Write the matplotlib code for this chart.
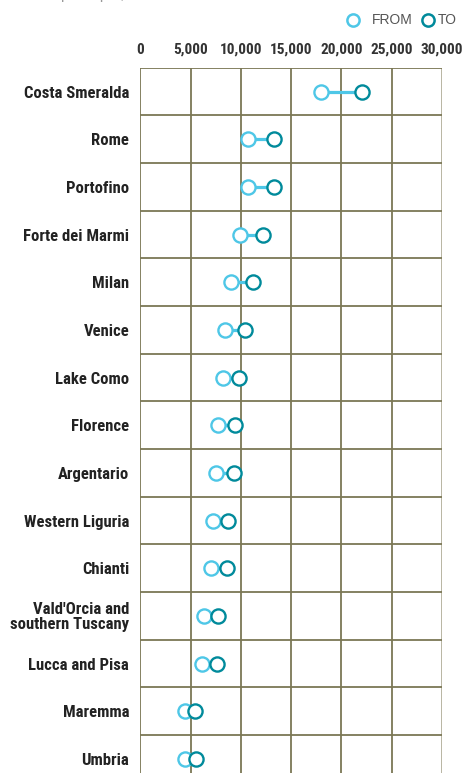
import matplotlib
matplotlib.use("Agg")
import matplotlib.pyplot as plt
from matplotlib import font_manager

categories = ["Costa Smeralda", "Rome", "Portofino", "Forte dei Marmi", "Milan",
              "Venice", "Lake Como", "Florence", "Argentario", "Western Liguria",
              "Chianti", "Vald'Orcia and\nsouthern Tuscany", "Lucca and Pisa",
              "Maremma", "Umbria"]
from_vals = [18000, 10700, 10700, 9900, 9050, 8400, 8250, 7750, 7550, 7250,
             7050, 6350, 6150, 4400, 4400]
to_vals = [22000, 13250, 13250, 12250, 11250, 10400, 9800, 9450, 9300, 8700,
           8650, 7750, 7600, 5450, 5550]
ticks = [0, 5000, 10000, 15000, 20000, 25000, 30000]
tick_labels = ["0", "5,000", "10,000", "15,000", "20,000", "25,000", "30,000"]

# find a condensed / narrow family if one is installed
cands = []
for f in font_manager.fontManager.ttflist:
    nm = f.name
    st = str(f.stretch)
    if ("Narrow" in nm or "Condensed" in nm or st in ("condensed", "semi-condensed",
                                                       "extra-condensed", "ultra-condensed")
            or (st.isdigit() and int(st) < 500)):
        cands.append((nm, st, f.fname))
narrow_name = None
narrow_stretch = "normal"
pref = ["Liberation Sans Narrow", "Roboto Condensed", "Open Sans Condensed",
        "DejaVu Sans", "Noto Sans", "Roboto", "Open Sans", "Inter", "Lato"]
for p in pref:
    for nm, st, fn in cands:
        if nm == p:
            narrow_name = nm
            narrow_stretch = "condensed" if not ("Narrow" in nm or "Condensed" in nm) else "normal"
            break
    if narrow_name:
        break
if narrow_name is None and cands:
    narrow_name = cands[0][0]
if narrow_name is None:
    narrow_name = "Roboto"
fam_narrow = [narrow_name, "DejaVu Sans"]
fam_reg = ["Liberation Sans", "DejaVu Sans"]
condensed = narrow_name not in ("Roboto",)
lab_size = 12 if condensed else 11
tick_size = 11 if condensed else 9.5

W, H = 464, 773
fig = plt.figure(figsize=(W / 100, H / 100), dpi=100)

left_px, right_px, top_px = 140.3, 442.0, 67.7
row_h = 47.67
n = len(categories)
bottom_px = top_px + n * row_h
ax = fig.add_axes([left_px / W, (H - bottom_px) / H,
                   (right_px - left_px) / W, (bottom_px - top_px) / H])

FROM_C = "#4ec7e7"
TO_C = "#008a9b"
GRID_C = "#7b7755"

ax.set_xlim(0, 30000)
ax.set_ylim(n, 0)
for t in ticks:
    ax.axvline(t, color=GRID_C if t < 30000 else "#b3b09c", lw=1.3, zorder=1)
for k in range(n + 1):
    ax.axhline(k, color=GRID_C, lw=1.3, zorder=1)
for s in ax.spines.values():
    s.set_visible(False)

ys = [i + 0.5 for i in range(n)]
for y, a, b in zip(ys, from_vals, to_vals):
    ax.plot([a, b], [y, y], color=FROM_C, lw=2.3, zorder=2, solid_capstyle="butt")
ax.plot(from_vals, ys, "o", ms=10.2, mfc="white", mec=FROM_C, mew=1.7, zorder=3, ls="none")
ax.plot(to_vals, ys, "o", ms=10.2, mfc="white", mec=TO_C, mew=1.7, zorder=4, ls="none")

ax.set_yticks(ys)
ax.set_yticklabels(categories, family=fam_narrow, fontsize=lab_size, color="#222222",
                   fontweight="bold", linespacing=0.95, fontstretch=narrow_stretch)
ax.tick_params(axis="y", length=0, pad=8)
ax.set_xticks(ticks)
ax.set_xticklabels(tick_labels, family=fam_narrow, fontsize=tick_size, color="#333333",
                   fontweight="bold", fontstretch=narrow_stretch)
ax.xaxis.tick_top()
ax.tick_params(axis="x", length=0, pad=8)

# legend
def px(x, y):
    return x / W, 1 - y / H

fig.lines.append(plt.Line2D([352.7 / W], [1 - 20 / H], marker="o", ms=8.8, mfc="white",
                            mec=FROM_C, mew=1.8, ls="none", transform=fig.transFigure))
fig.lines.append(plt.Line2D([427.7 / W], [1 - 20 / H], marker="o", ms=8.8, mfc="white",
                            mec=TO_C, mew=1.8, ls="none", transform=fig.transFigure))
fig.text(*px(371.5, 20.5), "FROM", family=fam_reg, fontsize=10, color="#555555",
         ha="left", va="center")
fig.text(*px(438, 20.5), "TO", family=fam_reg, fontsize=10, color="#555555",
         ha="left", va="center")

# cut-off subtitle at top (partly outside the canvas, as in the reference)
fig.text(*px(22, -0.5), "Price per sq m, in euros", family=fam_reg, fontsize=11,
         color="#999999", ha="left", va="baseline")

fig.savefig("out.png", dpi=100)
